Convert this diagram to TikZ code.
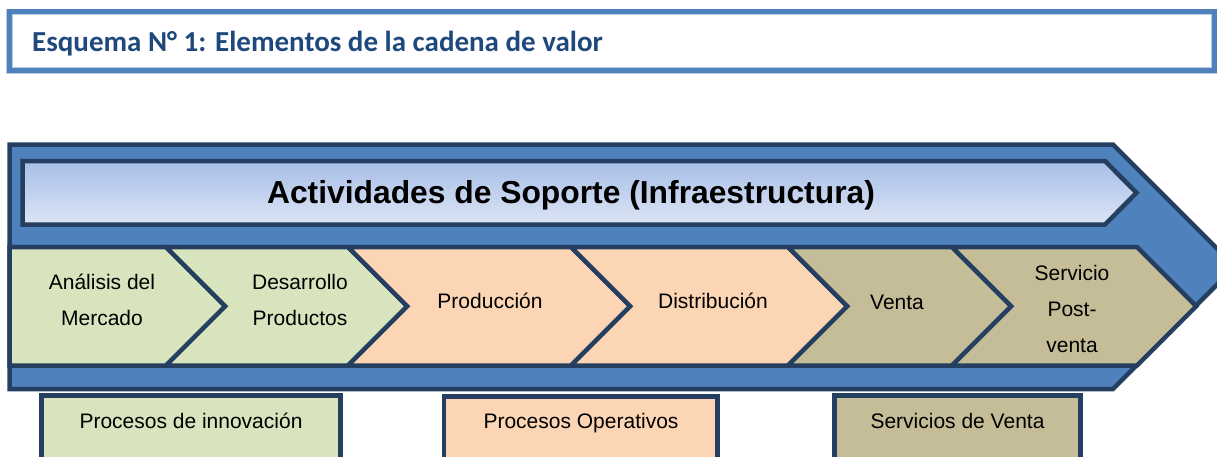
\documentclass[tikz,border=0pt]{standalone}
\usepackage{fontspec}
\setmainfont{Liberation Sans}
\newfontfamily\calfont{Carlito}
\definecolor{navy}{HTML}{243F60}
\definecolor{midblue}{HTML}{4F81BD}
\definecolor{paleblue}{HTML}{B9CDE5}
\definecolor{titleblue}{HTML}{1F497D}
\definecolor{grnfill}{HTML}{D7E4BD}
\definecolor{pchfill}{HTML}{FCD5B5}
\definecolor{tanfill}{HTML}{C4BD97}
\definecolor{supTop}{HTML}{A7BEE8}
\definecolor{supBot}{HTML}{DCE5F4}
\newcommand{\tst}{\rule{0pt}{20pt}}
\newcommand{\bst}{\rule[-6pt]{0pt}{6pt}}
\begin{document}
\begin{tikzpicture}[x=1pt,y=-1pt,
  frame/.style={draw=navy, line width=4.5pt, line join=miter},
  lbl/.style={font=\fontsize{21}{36}\selectfont, align=center, inner sep=0pt, text=black},
  boxlbl/.style={font=\fontsize{21}{25}\selectfont, inner sep=0pt, anchor=base, text=black}]
\useasboundingbox (0,0) rectangle (1217,456);
\clip (0,0) rectangle (1217,456);
\fill[white] (0,0) rectangle (1217,456);
% title box
\draw[paleblue, line width=6.5pt] (9.5,11.8) rectangle (1214.5,70.5);
\draw[midblue, line width=5pt] (9.5,11.8) rectangle (1214.5,70.5);
\node[anchor=base west, font=\calfont\bfseries\fontsize{29}{32}\selectfont, text=titleblue, inner sep=0pt] (title) at (32,51) {Esquema N° 1: Elementos de la cadena de valor};
% outer arrow
\draw[frame, fill=midblue] (9.5,144.5) -- (1113,144.5) -- (1235,266.5) -- (1113,389) -- (9.5,389) -- cycle;
% support arrow
\draw[frame, top color=supTop, bottom color=supBot] (22.5,161) -- (1105,161) -- (1136.5,192.75) -- (1105,224.5) -- (22.5,224.5) -- cycle;
\node[font=\bfseries\fontsize{31.8}{36}\selectfont, anchor=base, inner sep=0pt] (sop) at (571,203) {Actividades de Soporte (Infraestructura)};
% chevrons
\draw[frame, fill=grnfill] (9.5,247) -- (166,247) -- (225.25,306.25) -- (166,365.5) -- (9.5,365.5) -- cycle;
\draw[frame, fill=grnfill] (166,247) -- (348,247) -- (407.25,306.25) -- (348,365.5) -- (166,365.5) -- (225.25,306.25) -- cycle;
\draw[frame, fill=pchfill] (348,247) -- (571,247) -- (630.25,306.25) -- (571,365.5) -- (348,365.5) -- (407.25,306.25) -- cycle;
\draw[frame, fill=pchfill] (571,247) -- (788,247) -- (847.25,306.25) -- (788,365.5) -- (571,365.5) -- (630.25,306.25) -- cycle;
\draw[frame, fill=tanfill] (788,247) -- (952,247) -- (1011.25,306.25) -- (952,365.5) -- (788,365.5) -- (847.25,306.25) -- cycle;
\draw[frame, fill=tanfill] (952,247) -- (1137,247) -- (1196.25,306.25) -- (1137,365.5) -- (952,365.5) -- (1011.25,306.25) -- cycle;
\node[lbl] (c1) at (102,300) {\tst Análisis del\\Mercado\bst};
\node[lbl] (c2) at (300,300) {\tst Desarrollo\\Productos\bst};
\node[lbl] (c3) at (490,301) {\tst Producción\bst};
\node[lbl] (c4) at (713,301) {\tst Distribución\bst};
\node[lbl] (c5) at (897,302) {\tst Venta\bst};
\node[lbl] (c6) at (1072,309) {\tst Servicio\\Post-\\venta\bst};
% bottom boxes
\draw[frame, fill=grnfill] (41.5,395.5) rectangle (340.5,480);
\draw[frame, fill=pchfill] (444,396.5) rectangle (717.5,480);
\draw[frame, fill=tanfill] (834.5,395.5) rectangle (1080.5,480);
\node[boxlbl] (b1) at (191,428) {Procesos de innovación};
\node[boxlbl] (b2) at (581,428) {Procesos Operativos};
\node[boxlbl] (b3) at (957.5,428) {Servicios de Venta};
\end{tikzpicture}
\end{document}
